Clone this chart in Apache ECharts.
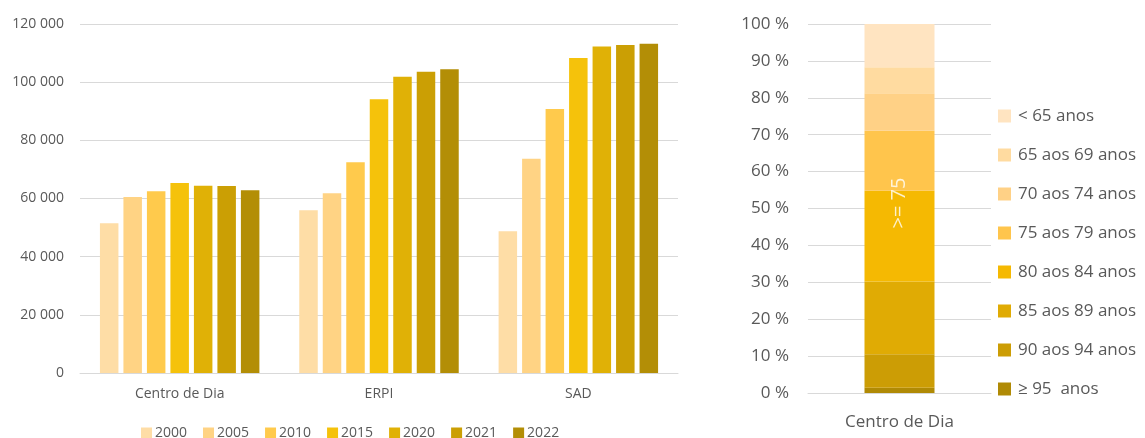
<!DOCTYPE html>
<html>
<head>
<meta charset="utf-8">
<script src="https://cdn.jsdelivr.net/npm/echarts@6/dist/echarts.min.js"></script>
<style>
html,body{margin:0;padding:0;background:#fff;}
#c{width:1145px;height:438px;}
</style>
</head>
<body>
<div id="c"></div>
<script>
// ---- Left chart data ----
const categories = ['Centro de Dia', 'ERPI', 'SAD'];
const years = ['2000', '2005', '2010', '2015', '2020', '2021', '2022'];
const v2000 = [51500, 56000, 48700];
const v2005 = [60500, 61800, 73700];
const v2010 = [62500, 72500, 90800];
const v2015 = [65300, 94100, 108300];
const v2020 = [64400, 101900, 112300];
const v2021 = [64300, 103600, 112800];
const v2022 = [62800, 104400, 113200];
const yearValues = [v2000, v2005, v2010, v2015, v2020, v2021, v2022];
const yearColors = ['#FEDDA6', '#FFD384', '#FFCA4C', '#F5C20B', '#E0B106', '#CB9F04', '#B38E06'];

// ---- Right chart data (bottom to top) ----
const rightCategory = ['Centro de Dia'];
const ageGroups = ['≥ 95  anos', '90 aos 94 anos', '85 aos 89 anos', '80 aos 84 anos', '75 aos 79 anos', '70 aos 74 anos', '65 aos 69 anos', '< 65 anos'];
const ageShares = [1.4, 9.1, 19.7, 24.6, 16.3, 10.1, 7.1, 11.7];
const ageColors = ['#B08A05', '#CC9D05', '#E0AB04', '#F5B902', '#FFC54C', '#FFD186', '#FFDBA0', '#FFE4C1'];
const annotationText = '>= 75';
const annotationValue = 52.3;

const txt = '#595959';
const grid = '#D9D9D9';
const fontFam = '"Open Sans", "Liberation Sans", sans-serif';

function thousands(v) {
  return String(v).replace(/\B(?=(\d{3})+(?!\d))/g, ' ');
}

const series = [];
years.forEach((y, i) => {
  series.push({
    name: y, type: 'bar', xAxisIndex: 0, yAxisIndex: 0,
    data: yearValues[i],
    itemStyle: { color: yearColors[i] },
    barCategoryGap: '20%', barGap: '27%'
  });
});
ageGroups.forEach((g, i) => {
  series.push({
    name: g, type: 'bar', xAxisIndex: 1, yAxisIndex: 1, stack: 'age',
    data: [ageShares[i]],
    itemStyle: { color: ageColors[i] },
    barWidth: 70
  });
});
series.push({
  name: 'annotation', type: 'scatter', xAxisIndex: 1, yAxisIndex: 1,
  data: [[rightCategory[0], annotationValue]],
  symbolSize: 0, silent: true, z: 10,
  label: {
    show: true, position: 'inside', rotate: 90, offset: [-3, 0],
    formatter: annotationText, color: '#ffffff', fontSize: 20, fontFamily: fontFam
  }
});

const chart = echarts.init(document.getElementById('c'), null, { renderer: 'canvas' });
chart.setOption({
  animation: false,
  textStyle: { fontFamily: fontFam },
  grid: [
    { left: 80, right: 467, top: 24, bottom: 65 },
    { left: 808, right: 154, top: 24, bottom: 45 }
  ],
  xAxis: [
    { type: 'category', gridIndex: 0, data: categories,
      axisLine: { lineStyle: { color: grid } }, axisTick: { show: false },
      axisLabel: { color: txt, fontSize: 14, margin: 14, fontFamily: fontFam } },
    { type: 'category', gridIndex: 1, data: rightCategory,
      axisLine: { lineStyle: { color: grid } }, axisTick: { show: false },
      axisLabel: { color: txt, fontSize: 17, margin: 21, fontFamily: fontFam } }
  ],
  yAxis: [
    { type: 'value', gridIndex: 0, min: 0, max: 120000, interval: 20000,
      axisLine: { show: false }, axisTick: { show: false },
      splitLine: { lineStyle: { color: grid } },
      axisLabel: { color: txt, fontSize: 14, margin: 16, fontFamily: fontFam, formatter: thousands } },
    { type: 'value', gridIndex: 1, min: 0, max: 100, interval: 10,
      axisLine: { show: false }, axisTick: { show: false },
      splitLine: { lineStyle: { color: grid } },
      axisLabel: { color: txt, fontSize: 17, margin: 19, fontFamily: fontFam, formatter: v => v + ' %' } }
  ],
  legend: [
    { data: years, orient: 'horizontal', left: 141, top: 426, padding: 0,
      itemWidth: 11, itemHeight: 11, itemGap: 16, icon: 'rect',
      textStyle: { color: txt, fontSize: 14, fontFamily: fontFam, padding: [0, 0, 0, -2] } },
    { data: ageGroups.slice().reverse(), orient: 'vertical', left: 998, top: 106, padding: 0,
      itemWidth: 13, itemHeight: 13, itemGap: 19, icon: 'rect',
      textStyle: { color: txt, fontSize: 17, lineHeight: 20, fontFamily: fontFam, padding: [0, 0, 0, 2] } }
  ],
  series: series
});
</script>
</body>
</html>
